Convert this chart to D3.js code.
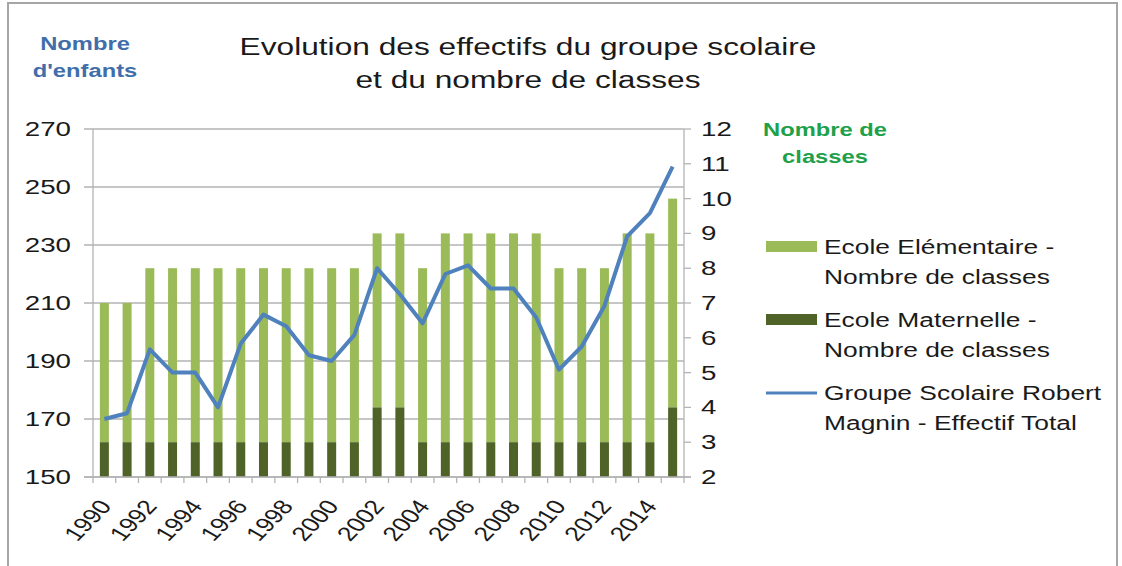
<!DOCTYPE html>
<html>
<head>
<meta charset="utf-8">
<script src="https://cdn.jsdelivr.net/npm/d3@7"></script>
<style>
  body { margin: 0; background: #fff; }
  text { font-family: "Liberation Sans", Arial, sans-serif; }
</style>
</head>
<body>
<svg id="chart" width="1122" height="566"></svg>
<script>
// data
var years = [1990, 1991, 1992, 1993, 1994, 1995, 1996, 1997, 1998, 1999, 2000, 2001, 2002,
  2003, 2004, 2005, 2006, 2007, 2008, 2009, 2010, 2011, 2012, 2013, 2014, 2015]
var maternelle = [3, 3, 3, 3, 3, 3, 3, 3, 3, 3, 3, 3, 4, 4, 3, 3, 3, 3, 3, 3, 3, 3, 3, 3, 3, 4]
var elementaire = [4, 4, 5, 5, 5, 5, 5, 5, 5, 5, 5, 5, 5, 5, 5, 6, 6, 6, 6, 6, 5, 5, 5, 6, 6, 6]
var effectif = [170, 172, 194, 186, 186, 174, 196, 206, 202, 192, 190, 199, 222,
  213, 203, 220, 223, 215, 215, 205, 187, 195, 209, 233, 241, 257]
var leftTicks = [150, 170, 190, 210, 230, 250, 270]
var rightTicks = [2, 3, 4, 5, 6, 7, 8, 9, 10, 11, 12]

var svg = d3.select('#chart'),
  margin = {top: 129, right: 438, bottom: 89, left: 93},
  width = +svg.attr('width') - margin.left - margin.right,
  height = +svg.attr('height') - margin.top - margin.bottom

var colElem = '#9bbb59', colMat = '#4f6228', colLine = '#4f81bd'
var sx = 1.32 // the original picture is stretched sideways

function place(x, y) {
  return 'translate(' + x + ',' + y + ') scale(' + sx + ',1)'
}

// outer frame
svg.append('rect')
  .attr('x', 8).attr('y', 3)
  .attr('width', 1109).attr('height', 600)
  .attr('fill', 'none').attr('stroke', '#a6a6a6').attr('stroke-width', 2)

var x = d3.scaleBand().domain(years).range([0, width]),
  yL = d3.scaleLinear().domain([150, 270]).range([height, 0]),
  yR = d3.scaleLinear().domain([2, 12]).range([height, 0])

var g = svg.append('g')
  .attr('transform', 'translate(' + margin.left + ',' + margin.top + ')')

// gridlines
g.append('g')
  .selectAll('line')
  .data(leftTicks)
  .enter().append('line')
  .attr('x1', -9).attr('x2', width)
  .attr('y1', function (d) { return yL(d) })
  .attr('y2', function (d) { return yL(d) })
  .attr('stroke', '#b3b3b3').attr('stroke-width', 1.3)

// left axis line
g.append('line')
  .attr('x1', 0).attr('x2', 0).attr('y1', 0).attr('y2', height)
  .attr('stroke', '#b3b3b3').attr('stroke-width', 1.3)

// left tick labels
g.append('g')
  .selectAll('text')
  .data(leftTicks)
  .enter().append('text')
  .attr('transform', function (d) { return place(-22, yL(d) + 7) })
  .style('text-anchor', 'end')
  .attr('font-size', 21)
  .attr('fill', '#1a1a1a')
  .text(function (d) { return d })

// right axis
g.append('line')
  .attr('x1', width).attr('x2', width).attr('y1', 0).attr('y2', height)
  .attr('stroke', '#b3b3b3').attr('stroke-width', 1.3)

g.append('g')
  .selectAll('line')
  .data(rightTicks)
  .enter().append('line')
  .attr('x1', width).attr('x2', width + 7)
  .attr('y1', function (d) { return yR(d) })
  .attr('y2', function (d) { return yR(d) })
  .attr('stroke', '#b3b3b3').attr('stroke-width', 1.3)

g.append('g')
  .selectAll('text')
  .data(rightTicks)
  .enter().append('text')
  .attr('transform', function (d) { return place(width + 17, yR(d) + 7) })
  .attr('font-size', 21)
  .attr('fill', '#1a1a1a')
  .text(function (d) { return d })

// bars
var barW = 9
g.append('g')
  .selectAll('rect')
  .data(years)
  .enter().append('rect')
  .attr('x', function (d) { return x(d) + x.bandwidth() / 2 - barW / 2 })
  .attr('y', function (d, i) { return yR(maternelle[i] + elementaire[i]) })
  .attr('width', barW)
  .attr('height', function (d, i) { return yR(maternelle[i]) - yR(maternelle[i] + elementaire[i]) })
  .attr('fill', colElem)

g.append('g')
  .selectAll('rect')
  .data(years)
  .enter().append('rect')
  .attr('x', function (d) { return x(d) + x.bandwidth() / 2 - barW / 2 })
  .attr('y', function (d, i) { return yR(maternelle[i]) })
  .attr('width', barW)
  .attr('height', function (d, i) { return height - yR(maternelle[i]) })
  .attr('fill', colMat)

// bottom axis
g.append('line')
  .attr('x1', -9).attr('x2', width + 7).attr('y1', height).attr('y2', height)
  .attr('stroke', '#b3b3b3').attr('stroke-width', 1.3)

g.append('g')
  .selectAll('line')
  .data(years.concat(['end']))
  .enter().append('line')
  .attr('x1', function (d, i) { return i * x.step() })
  .attr('x2', function (d, i) { return i * x.step() })
  .attr('y1', height).attr('y2', height + 6)
  .attr('stroke', '#b3b3b3').attr('stroke-width', 1.3)

// year labels: rotated, then stretched sideways like the rest of the picture
g.append('g')
  .selectAll('text')
  .data(years.filter(function (d, i) { return i % 2 === 0 }))
  .enter().append('text')
  .attr('transform', function (d) {
    return place(x(d) + x.bandwidth() / 2 - 7, height + 21) + ' rotate(-53)'
  })
  .style('text-anchor', 'end')
  .attr('dy', '0.72em')
  .attr('font-size', 20)
  .attr('fill', '#1a1a1a')
  .text(function (d) { return d })

// total line
var line = d3.line()
  .x(function (d, i) { return x(years[i]) + x.bandwidth() / 2 })
  .y(function (d) { return yL(d) })

g.append('path')
  .datum(effectif)
  .attr('d', line)
  .attr('fill', 'none')
  .attr('stroke', colLine)
  .attr('stroke-width', 4)
  .attr('stroke-linejoin', 'round')

// titles
var title = svg.append('text')
  .attr('transform', place(528, 55))
  .style('text-anchor', 'middle')
  .attr('font-size', 24)
  .attr('fill', '#1a1a1a')
title.append('tspan').attr('x', 0).text('Evolution des effectifs du groupe scolaire')
title.append('tspan').attr('x', 0).attr('dy', 33).text('et du nombre de classes')

var leftLabel = svg.append('text')
  .attr('transform', place(85, 50))
  .style('text-anchor', 'middle')
  .attr('font-size', 18).attr('font-weight', 'bold')
  .attr('fill', '#3f6eab')
leftLabel.append('tspan').attr('x', 0).text('Nombre')
leftLabel.append('tspan').attr('x', 0).attr('dy', 27).text("d'enfants")

var rightLabel = svg.append('text')
  .attr('transform', place(825, 136))
  .style('text-anchor', 'middle')
  .attr('font-size', 18).attr('font-weight', 'bold')
  .attr('fill', '#21a04a')
rightLabel.append('tspan').attr('x', 0).text('Nombre de')
rightLabel.append('tspan').attr('x', 0).attr('dy', 27).text('classes')

// legend
var legendItems = [
  {lines: ['Ecole Elémentaire -', 'Nombre de classes'], color: colElem, type: 'rect'},
  {lines: ['Ecole Maternelle -', 'Nombre de classes'], color: colMat, type: 'rect'},
  {lines: ['Groupe Scolaire Robert', 'Magnin - Effectif Total'], color: colLine, type: 'line'}
]

var legend = svg.append('g').attr('transform', 'translate(766,247)')
var item = legend.selectAll('g')
  .data(legendItems)
  .enter().append('g')
  .attr('transform', function (d, i) { return 'translate(0,' + (i * 73) + ')' })

item.filter(function (d) { return d.type === 'rect' })
  .append('rect')
  .attr('x', 0).attr('y', -6).attr('width', 51).attr('height', 11)
  .attr('fill', function (d) { return d.color })

item.filter(function (d) { return d.type === 'line' })
  .append('line')
  .attr('x1', 0).attr('x2', 51).attr('y1', 0).attr('y2', 0)
  .attr('stroke', function (d) { return d.color })
  .attr('stroke-width', 3)

item.append('text')
  .attr('transform', place(58, 7))
  .attr('font-size', 20)
  .attr('fill', '#1a1a1a')
  .selectAll('tspan')
  .data(function (d) { return d.lines })
  .enter().append('tspan')
  .attr('x', 0)
  .attr('dy', function (d, i) { return i === 0 ? 0 : 30 })
  .text(function (d) { return d })
</script>
</body>
</html>
